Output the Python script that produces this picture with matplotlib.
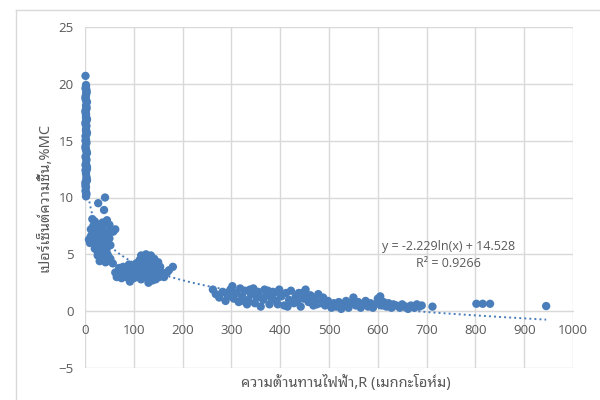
import numpy as np
import matplotlib
matplotlib.use('Agg')
import matplotlib.pyplot as plt
from matplotlib import font_manager
from matplotlib.ft2font import FT2Font

# resistance (megohm) vs moisture content (%MC)
res_a = [1, 2, 1, 3, 2, 1, 4, 2, 3, 1, 2, 4, 1, 3, 2, 4, 1, 2, 3, 1,
         2, 4, 1, 3, 2, 4, 1, 2, 3, 4, 1, 2, 1, 3, 2, 4, 1, 2, 3, 1,
         2, 3, 1, 2, 3, 1, 2, 3, 1, 2, 3, 2, 1, 3, 2, 1, 2, 3, 1, 2]
mc_a = [20.7, 19.9, 19.6, 19.3, 19.0, 18.7, 18.4, 18.1, 17.8, 17.5,
        17.2, 16.9, 16.6, 16.3, 16.0, 15.7, 15.4, 15.1, 14.8, 14.5,
        14.2, 13.9, 13.6, 13.3, 13.0, 12.7, 12.4, 12.1, 11.8, 11.5,
        11.2, 10.9, 10.6, 10.3, 10.1, 12.5, 15.0, 17.0, 19.2, 11.0,
        19.75, 19.45, 18.85, 18.55, 17.95, 17.65, 17.35, 16.75, 16.45, 15.85,
        15.55, 14.95, 14.35, 14.05, 13.45, 12.85, 12.25, 11.65, 11.35, 10.45]

res_b = [41, 27, 39, 15, 20, 45, 50, 12, 22, 30, 35, 55, 8, 14, 18, 25, 28, 33,
         40, 45, 52, 10, 20, 26, 32, 38, 44, 48, 30, 35, 42, 52, 16, 36, 24, 46,
         58, 62, 57, 17, 28, 38, 48, 12, 22, 34, 44, 20, 30, 40, 50, 26, 36, 46]
mc_b = [10.0, 9.5, 8.9, 8.1, 7.9, 8.0, 7.6, 7.2, 7.4, 7.0, 7.5, 7.0, 6.3, 6.6,
        6.0, 6.4, 5.8, 6.2, 6.8, 6.1, 5.8, 6.0, 5.5, 5.2, 5.6, 5.0, 5.4, 4.8,
        4.4, 4.6, 4.3, 4.6, 7.0, 7.8, 6.8, 5.0, 7.0, 7.2, 4.2, 7.5, 7.6, 7.1,
        7.0, 6.6, 6.4, 6.6, 6.5, 5.9, 6.1, 5.9, 6.4, 4.9, 5.3, 4.4]

res_c = [62, 68, 72, 75, 80, 85, 88, 92, 95, 98, 100, 102, 105, 108, 110, 112,
         115, 118, 120, 122, 125, 128, 130, 132, 135, 137, 140, 142, 145, 148,
         150, 152, 158, 162, 168, 172, 180, 78, 90, 115, 125, 100, 138, 65,
         70, 82, 94, 106, 118, 130, 142, 154, 86, 98, 110, 122, 134, 146, 104,
         128]
mc_c = [3.4, 3.2, 3.6, 2.9, 3.5, 3.0, 3.8, 2.6, 3.3, 3.9, 2.9, 3.5, 4.2, 3.0,
        3.7, 4.5, 2.8, 3.4, 4.0, 4.7, 3.1, 3.6, 2.5, 4.3, 4.9, 3.2, 3.8, 4.6,
        2.8, 3.5, 4.3, 3.0, 3.4, 3.0, 3.4, 3.6, 3.9, 3.9, 4.1, 4.9, 5.0, 3.3,
        2.7, 3.0, 3.8, 3.2, 3.0, 3.2, 3.1, 3.4, 3.1, 3.9, 3.6, 3.7, 4.3, 4.2,
        4.0, 4.0, 3.9, 2.9]

res_d = [262, 268, 275, 282, 288, 292, 298, 302, 305, 310, 315, 318, 322, 328,
         332, 335, 340, 345, 348, 352, 355, 360, 365, 368, 372, 378, 382, 388,
         392, 398, 402, 408, 412, 418, 422, 428, 432, 438, 442, 448, 452, 458,
         462, 468, 472, 478, 482, 488, 300, 325, 338, 358, 375, 395, 415, 435,
         455, 475, 290, 385, 445, 465]
mc_d = [1.9, 1.5, 1.2, 1.7, 0.9, 1.4, 1.9, 2.2, 1.1, 1.6, 0.8, 2.0, 1.3, 1.8,
        0.6, 1.0, 1.5, 2.0, 0.7, 1.2, 1.7, 0.4, 1.0, 1.9, 1.4, 0.6, 1.1, 1.6,
        0.9, 1.9, 1.3, 0.5, 1.6, 1.0, 1.8, 0.7, 1.3, 1.6, 0.4, 1.1, 1.9, 0.8,
        1.4, 0.5, 1.0, 1.5, 0.7, 1.2, 1.3, 0.9, 1.9, 1.3, 1.8, 0.6, 0.4, 0.9,
        1.3, 0.6, 1.6, 1.7, 1.6, 1.2]

res_e = [492, 498, 505, 510, 515, 520, 525, 530, 535, 540, 545, 550, 555, 560,
         565, 570, 575, 580, 585, 590, 595, 600, 605, 608, 612, 618, 622, 628,
         632, 638, 645, 650, 658, 662, 668, 675, 680, 685, 690, 712, 802, 815,
         830, 945]
mc_e = [0.5, 0.9, 0.3, 0.7, 0.4, 0.8, 0.2, 0.6, 0.9, 0.3, 0.7, 1.2, 0.5, 0.8,
        0.3, 0.6, 0.9, 0.4, 0.7, 0.3, 0.6, 1.1, 1.3, 0.5, 0.8, 0.4, 0.7, 0.3,
        0.6, 0.5, 0.3, 0.6, 0.4, 0.2, 0.5, 0.3, 0.6, 0.4, 0.5, 0.4, 0.65, 0.65,
        0.65, 0.45]

# excel log trendline
coef_a = -2.229
coef_b = 14.528
r2 = 0.9266

x_label = 'ความต้านทานไฟฟ้า,R (เมกกะโอห์ม)'
y_label = 'เปอร์เซ็นต์ความชื้น,%MC'

# pick a font that has thai glyphs
thai = []
for f in font_manager.fontManager.ttflist:
    try:
        if 0x0E04 in FT2Font(f.fname).get_charmap():
            thai.append(f.name)
    except Exception:
        pass
thai = sorted(set(thai))
pick = [t for t in ['Noto Sans Thai Looped', 'Loma', 'Noto Sans Thai', 'Sarabun'] if t in thai]
if not pick:
    pick = thai[:1]
label_fonts = pick[:1] + ['Open Sans', 'DejaVu Sans']

plt.rcParams['font.family'] = ['Open Sans', 'DejaVu Sans']

grey = '#595959'
blue = '#4a7ebb'

res = res_a + res_b + res_c + res_d + res_e
mc = mc_a + mc_b + mc_c + mc_d + mc_e

fig = plt.figure(figsize=(6, 4), dpi=100)
ax = fig.add_axes([0.1417, 0.08, 0.8133, 0.8525])

# excel does not clip markers at the axis
ax.scatter(res, mc, s=36, color=blue, edgecolors='none', zorder=3,
           clip_on=False)

xt = np.linspace(min(res), max(res), 400)
ax.plot(xt, coef_a * np.log(xt) + coef_b, color=blue, lw=1.4,
        linestyle=(0, (1, 1.6)), zorder=4)

ax.set_xlim(0, 1000)
ax.set_ylim(-5, 25)
ax.set_xticks(range(0, 1001, 100))
ax.set_yticks(range(-5, 26, 5))
ax.grid(True, color='#d9d9d9', lw=1)
ax.set_axisbelow(True)
for s in ['top', 'right', 'left']:
    ax.spines[s].set_visible(False)
ax.spines['bottom'].set_position(('data', 0))
ax.spines['bottom'].set_color('#d9d9d9')
ax.tick_params(length=0, labelsize=9.5, labelcolor=grey)
ax.tick_params(axis='x', pad=9)
ax.tick_params(axis='y', pad=8)

ax.text(745, 5.7, 'y = -2.229ln(x) + 14.528', ha='center', va='center',
        fontsize=9, color=grey)
ax.text(745, 4.2, 'R² = %.4f' % r2, ha='center', va='center',
        fontsize=9, color=grey)

fig.text(0.577, 0.043, x_label, ha='center', va='center', fontsize=10.5,
         color=grey, family=label_fonts)
fig.text(0.075, 0.506, y_label, ha='center', va='center', fontsize=10.5,
         color=grey, rotation=90, family=label_fonts)

# chart frame
fig.add_artist(plt.Line2D([0.026, 1.0], [0.975, 0.975], color='#d9d9d9',
                          lw=1, transform=fig.transFigure))
fig.add_artist(plt.Line2D([0.026, 0.026], [0.0, 0.975], color='#d9d9d9',
                          lw=1, transform=fig.transFigure))

fig.savefig('out.png', dpi=100)
